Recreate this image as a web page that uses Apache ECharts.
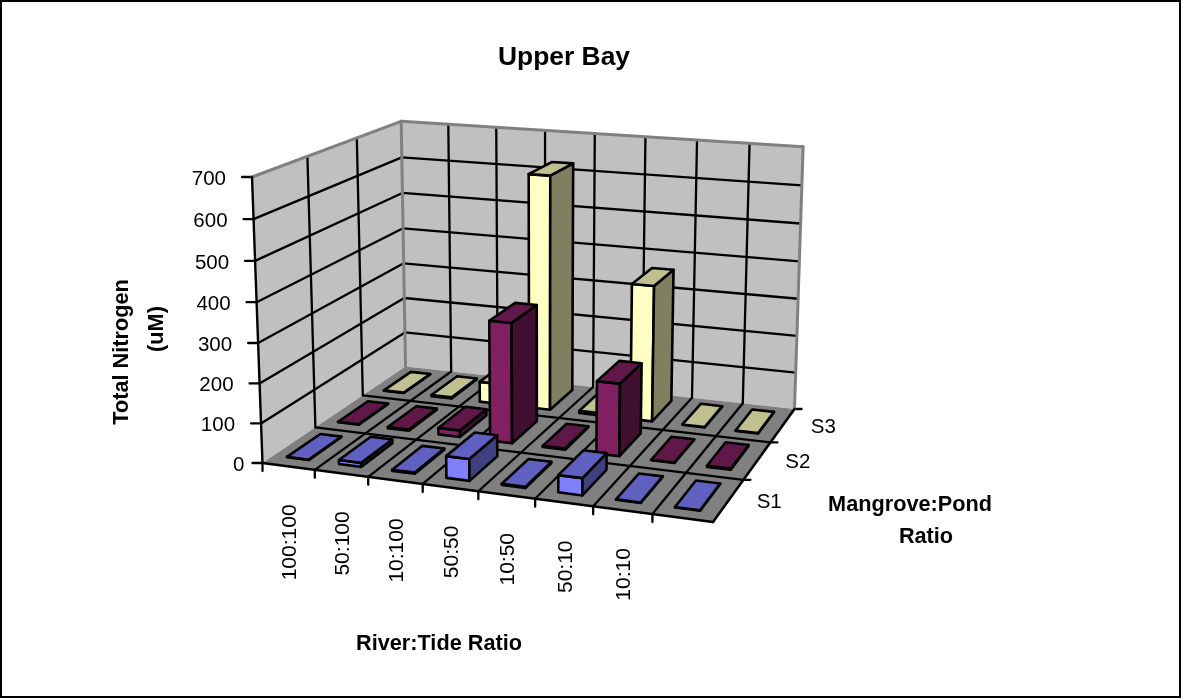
<!DOCTYPE html>
<html>
<head>
<meta charset="utf-8">
<style>html,body{margin:0;padding:0;background:#fff}#chart{width:1181px;height:698px}</style>
<script src="https://cdn.jsdelivr.net/npm/echarts@6/dist/echarts.min.js"></script>
</head>
<body>
<div id="chart"></div>
<script>
// Chart values
const categories = ['100:100', '50:100', '10:100', '50:50', '10:50', '50:10', '10:10', ''];
const rowNames = ['S1', 'S2', 'S3'];
const valueTicks = [0, 100, 200, 300, 400, 500, 600, 700];
const s1Values = [1, 10, 3, 54, 3, 42, 1, 1];
const s2Values = [1, 3, 17, 310, 3, 185, 1, 3];
const s3Values = [1, 3, 55, 625, 6, 360, 1, 1];

// Screen position of the corners of the 3D box
const BOX = {
  frontLeft: [262.5, 463], frontRight: [713, 522], backRight: [794.5, 409], backLeft: [405.5, 366.5],
  topFrontLeft: [252, 177], topBackLeft: [401, 121], topBackRight: [803, 144.5]
};
const BAR_WIDTH = 0.42, BAR_DEPTH = 0.64, BAR_SHIFT_U = -0.03, BAR_SHIFT_D = 0.02;
const FONT = '"Liberation Sans", Arial, sans-serif';

// Perspective projection fitted to the box corners: (u, d, h) in the unit cube -> pixels
function makeProjection(b) {
  const p00 = b.frontLeft, p10 = b.frontRight, p11 = b.backRight, p01 = b.backLeft;
  const dx1 = p10[0] - p11[0], dx2 = p01[0] - p11[0], sx = p00[0] - p10[0] + p11[0] - p01[0];
  const dy1 = p10[1] - p11[1], dy2 = p01[1] - p11[1], sy = p00[1] - p10[1] + p11[1] - p01[1];
  const den = dx1 * dy2 - dx2 * dy1;
  const g = (sx * dy2 - dx2 * sy) / den, h = (dx1 * sy - sx * dy1) / den;
  const ax = [p10[0] * (1 + g) - p00[0], p10[1] * (1 + g) - p00[1]];
  const ay = [p01[0] * (1 + h) - p00[0], p01[1] * (1 + h) - p00[1]];
  const C = b.topFrontLeft, D = b.topBackLeft, E = b.topBackRight;
  let num = 0, dn = 0;
  for (let k = 0; k < 2; k++) {
    const c1 = C[k] - D[k], r1 = D[k] * (1 + h) - ay[k] - C[k];
    const c2 = C[k] - E[k], r2 = E[k] * (1 + g + h) - ax[k] - ay[k] - C[k];
    num += c1 * r1 + c2 * r2; dn += c1 * c1 + c2 * c2;
  }
  const gz = num / dn;
  const az = [C[0] * (1 + gz) - p00[0], C[1] * (1 + gz) - p00[1]];
  return function (u, d, z) {
    const w = 1 + g * u + h * d + gz * z;
    return [(p00[0] + ax[0] * u + ay[0] * d + az[0] * z) / w,
            (p00[1] + ax[1] * u + ay[1] * d + az[1] * z) / w];
  };
}
const project = makeProjection(BOX);

function line(a, b, color, width) {
  return { type: 'line', shape: { x1: a[0], y1: a[1], x2: b[0], y2: b[1] },
           style: { stroke: color, lineWidth: width, lineCap: 'round' } };
}
function quad(points, fill, stroke, width) {
  return { type: 'polygon', shape: { points: points },
           style: { fill: fill, stroke: stroke || null, lineWidth: width || 0, lineJoin: 'round' } };
}
function label(text, x, y, opt) {
  const o = opt || {};
  return { type: 'text', x: x, y: y, rotation: o.rotation || 0,
           style: { text: text, fill: '#000', fontFamily: FONT, fontSize: o.size || 20.5,
                    fontWeight: o.weight || 'normal', align: o.align || 'center', verticalAlign: 'middle' } };
}

// Horizontal position and height in the unit cube, taken from the hidden cartesian axes
function unitU(api, index) { return api.coord([index, 0])[0] / api.getWidth(); }
function unitZ(api, value) { return 1 - api.coord([0, value])[1] / api.getHeight(); }
function bandU(api) { return api.size([1, 0])[0] / api.getWidth(); }

function renderShell(params, api) {
  const P = project;
  return { type: 'group', children: [
    quad([P(0,0,0), P(0,1,0), P(0,1,1), P(0,0,1)], '#c0c0c0'),
    quad([P(0,1,0), P(1,1,0), P(1,1,1), P(0,1,1)], '#c0c0c0'),
    quad([P(0,0,0), P(1,0,0), P(1,1,0), P(0,1,0)], '#808080')
  ]};
}

function renderValueTick(params, api) {
  const value = api.value(0), z = unitZ(api, value), P = project;
  const front = P(0, 0, z), corner = P(0, 1, z), back = P(1, 1, z);
  const kids = [line([front[0] - 10, front[1]], front, '#000', 2.3)];
  if (value > 0 && value < valueTicks[valueTicks.length - 1]) {
    kids.push(line(front, corner, '#000', 2.3), line(corner, back, '#000', 2.3));
  }
  const offset = value === 0 ? 18 : 26;
  kids.push(label(String(value), front[0] - offset, front[1] + 2, { align: 'right' }));
  return { type: 'group', children: kids };
}

function renderColumnLines(params, api) {
  const i = api.value(0), band = bandU(api), u0 = unitU(api, i) - band / 2, P = project;
  const kids = [];
  if (i > 0) {
    kids.push(line(P(u0, 0, 0), P(u0, 1, 0), '#000', 2.3), line(P(u0, 1, 0), P(u0, 1, 1), '#000', 2.3));
  }
  const t = P(u0, 0, 0);
  kids.push(line(t, [t[0], t[1] + 8], '#000', 2.3));
  const c = P(u0 + band / 2, 0, 0);
  kids.push(label(categories[i], c[0] + 2, c[1] + 38, { align: 'right', rotation: Math.PI / 2, size: 21 }));
  return { type: 'group', children: kids };
}

function renderRowLines(params, api) {
  const r = api.value(0), P = project, dMid = (r + 0.5) / rowNames.length, d1 = (r + 1) / rowNames.length;
  const kids = [];
  if (r < rowNames.length - 1) {
    kids.push(line(P(0, d1, 0), P(1, d1, 0), '#000', 2.3),
              line(P(0, d1, 0), P(0, d1, 1), '#000', 2.3));
  }
  const end = P(1, d1, 0);
  kids.push(line(end, [end[0] + 7, end[1]], '#000', 2.3));
  const m = P(1, dMid, 0);
  kids.push(label(rowNames[r], m[0] + 28, m[1] + 2, { align: 'left' }));
  return { type: 'group', children: kids };
}

function renderEdges(params, api) {
  const P = project, gray = '#808080';
  return { type: 'group', children: [
    line(P(0,0,1), P(0,1,1), gray, 3), line(P(0,1,1), P(1,1,1), gray, 3),
    line(P(1,1,1), P(1,1,0), gray, 3), line(P(0,1,0), P(0,1,1), gray, 3),
    line(P(0,0,0), P(0,0,1), '#000', 2.4),
    line(P(0,0,0), P(1,0,0), '#000', 2.6), line(P(1,0,0), P(1,1,0), '#000', 2.6)
  ]};
}

function makeBarRenderer(row, colors) {
  return function (params, api) {
    const i = api.value(0), value = api.value(1);
    const band = bandU(api), uc = unitU(api, i) + band * BAR_SHIFT_U, P = project, n = rowNames.length;
    const u0 = uc - band * BAR_WIDTH / 2, u1 = uc + band * BAR_WIDTH / 2;
    const dc = row + 0.5 + BAR_SHIFT_D;
    const d0 = (dc - BAR_DEPTH / 2) / n, d1 = (dc + BAR_DEPTH / 2) / n;
    const z = unitZ(api, value);
    return { type: 'group', children: [
      quad([P(u0,d0,0), P(u1,d0,0), P(u1,d0,z), P(u0,d0,z)], colors[0], '#000', 2.6),
      quad([P(u1,d0,0), P(u1,d1,0), P(u1,d1,z), P(u1,d0,z)], colors[1], '#000', 2.6),
      quad([P(u0,d0,z), P(u1,d0,z), P(u1,d1,z), P(u0,d1,z)], colors[2], '#000', 2.6)
    ]};
  };
}

function barSeries(name, values, row, colors, z) {
  return { type: 'custom', name: name, z: z, silent: true, animation: false, clip: false,
           renderItem: makeBarRenderer(row, colors),
           encode: { x: 0, y: 1 },
           data: values.map(function (v, i) { return [i, v]; }) };
}
function shellSeries(render, data, z) {
  return { type: 'custom', z: z, silent: true, animation: false, clip: false,
           renderItem: render, encode: { x: 0, y: 1 }, data: data };
}

const boldText = { fontFamily: FONT, fontSize: 21.7, fontWeight: 'bold', fill: '#000', align: 'center', verticalAlign: 'middle' };
function axisName(text, x, y, rotation) {
  return { type: 'text', x: x, y: y, rotation: rotation || 0, silent: true, z: 20,
           style: Object.assign({ text: text }, boldText) };
}

const chart = echarts.init(document.getElementById('chart'), null, { renderer: 'canvas' });
chart.setOption({
  animation: false,
  backgroundColor: '#ffffff',
  title: { text: 'Upper Bay', left: 559, top: 40, textAlign: 'center',
           textStyle: { fontFamily: FONT, fontSize: 26.4, fontWeight: 'bold', color: '#000' } },
  grid: { left: 0, right: 0, top: 0, bottom: 0, containLabel: false },
  xAxis: { type: 'category', data: categories, show: false },
  yAxis: { type: 'value', min: 0, max: 700, interval: 100, show: false },
  graphic: [
    { type: 'rect', shape: { x: 1, y: 1, width: 1179, height: 696 }, silent: true, z: 0,
      style: { fill: null, stroke: '#000', lineWidth: 2 } },
    axisName('Total Nitrogen', 122, 352, Math.PI / 2),
    axisName('(uM)', 157, 329, Math.PI / 2),
    axisName('River:Tide Ratio', 439, 644),
    axisName('Mangrove:Pond', 910, 505),
    axisName('Ratio', 926, 537)
  ],
  series: [
    shellSeries(renderShell, [[0, 0]], 1),
    shellSeries(renderValueTick, valueTicks.map(function (v) { return [v]; }), 2),
    shellSeries(renderColumnLines, categories.map(function (c, i) { return [i]; }), 2),
    shellSeries(renderRowLines, rowNames.map(function (c, i) { return [i]; }), 2),
    shellSeries(renderEdges, [[0, 0]], 3),
    barSeries('S3', s3Values, 2, ['#ffffc4', '#808060', '#c0c090'], 4),
    barSeries('S2', s2Values, 1, ['#802060', '#401030', '#601848'], 5),
    barSeries('S1', s1Values, 0, ['#8080ff', '#404080', '#6060c0'], 6)
  ]
});
</script>
</body>
</html>
